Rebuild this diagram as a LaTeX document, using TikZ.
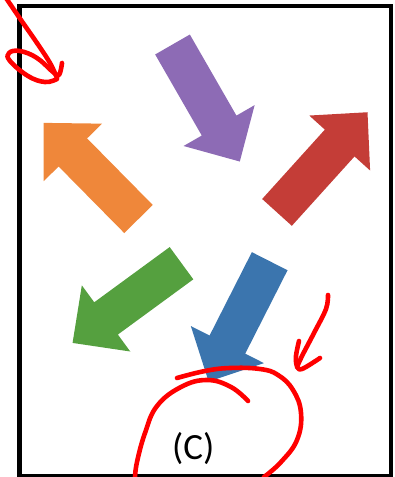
\documentclass[tikz,border=0pt]{standalone}
\usepackage{fontspec}
\setmainfont{Carlito}
\usepackage{tikz}
\usetikzlibrary{calc}

\definecolor{apurple}{HTML}{8D6BB5}
\definecolor{aorange}{HTML}{EF873A}
\definecolor{ared}{HTML}{C43D37}
\definecolor{agreen}{HTML}{55A03F}
\definecolor{ablue}{HTML}{3B75AE}

\begin{document}
\begin{tikzpicture}[x=1pt, y=-1pt, scribble/.style={draw=red, line width=4.6pt, line cap=round, line join=round}]
		\useasboundingbox (0,0) rectangle (394,477);
		% block arrow: tail midpoint #1, direction angle #2, colour #3
		\newcommand{\fatarrow}[3]{
			\begin{scope}[shift={#1}, rotate=#2]
				\fill[#3] (0,-20) -- (93.5,-20) -- (93.5,-41) -- (135,0) -- (93.5,41) -- (93.5,20) -- (0,20) -- cycle;
			\end{scope}}
		% frame
		\draw[line width=4.2pt] (19.5,6) rectangle (391,476);
		%%% arrows
		\fatarrow{(172.5,44.5)}{-60.1}{apurple}
		\fatarrow{(138.5,219)}{134.6}{aorange}
		\fatarrow{(277,212.4)}{47.9}{ared}
		\fatarrow{(181.5,263.2)}{-143.8}{agreen}
		\fatarrow{(269.7,261.2)}{-116.9}{ablue}
		\node[font=\fontsize{37}{40}\selectfont] (lab) at (193.3,449) {(C)};
		%%% red marks
		\draw[scribble] plot[smooth, tension=0.6] coordinates {(6,-2) (21,20) (37,43) (50,63) (57,78)};
		\draw[scribble] plot[smooth, tension=0.7] coordinates {(57,79) (45,82) (28,76) (10,61) (9,53) (20,51) (37,58) (53,72) (59,75) (62,63)};
		\draw[scribble] plot[smooth, tension=0.6] coordinates {(328,295) (326,309) (314,333) (302,356) (297,367)};
		\draw[scribble] plot[smooth, tension=0.6] coordinates {(299,341) (296,356) (297,366) (302,369) (320,358)};
		\draw[scribble] plot[smooth, tension=0.7] coordinates {(177,378) (205,371) (230,368) (260,369) (278,375) (293,390) (301,413) (297,440) (281,462) (264,477)};
		\draw[scribble] plot[smooth, tension=0.7] coordinates {(248,401) (231,387) (207,380) (181,387) (157,406) (145,433) (137,462) (135,478)};
\end{tikzpicture}
\end{document}
